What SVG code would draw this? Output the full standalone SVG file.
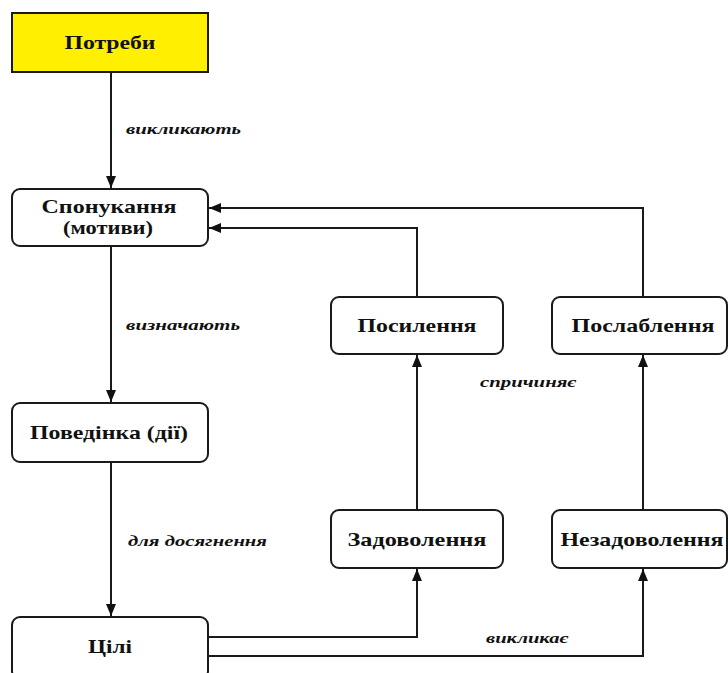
<svg xmlns="http://www.w3.org/2000/svg" width="728" height="673" viewBox="0 0 728 673">
<style>
.box{fill:#fff;stroke:#1a1a1a;stroke-width:2}
.yel{fill:#ffef00;stroke:#1a1a1a;stroke-width:2}
.t{font-family:"Liberation Serif","Times New Roman",Times,serif;font-weight:700;font-size:19px;fill:#111;text-anchor:middle}
.l{font-family:"Liberation Serif","Times New Roman",Times,serif;font-weight:700;font-style:italic;font-size:15px;fill:#111}
.c{fill:none;stroke:#1a1a1a;stroke-width:2}
</style>
<defs>
<marker id="ah" markerWidth="12" markerHeight="10" refX="12" refY="5" orient="auto" markerUnits="userSpaceOnUse">
<path d="M0,0 L12,5 L0,10 Z" fill="#111"/>
</marker>
</defs>
<rect width="728" height="673" fill="#fff"/>
<g id="connectors">
<path class="c" d="M111,72 V188" marker-end="url(#ah)"/>
<path class="c" d="M111,246 V402" marker-end="url(#ah)"/>
<path class="c" d="M111,462 V616" marker-end="url(#ah)"/>
<path class="c" d="M208,637 H417 V569" marker-end="url(#ah)"/>
<path class="c" d="M208,656 H643 V569" marker-end="url(#ah)"/>
<path class="c" d="M417,510 V355" marker-end="url(#ah)"/>
<path class="c" d="M643,510 V355" marker-end="url(#ah)"/>
<path class="c" d="M417,297 V228 H209" marker-end="url(#ah)"/>
<path class="c" d="M643,297 V208 H209" marker-end="url(#ah)"/>
<text class="l" x="126" y="134" textLength="115" lengthAdjust="spacingAndGlyphs">викликають</text>
<text class="l" x="126" y="330" textLength="114" lengthAdjust="spacingAndGlyphs">визначають</text>
<text class="l" x="128" y="546" textLength="139" lengthAdjust="spacingAndGlyphs">для досягнення</text>
<text class="l" x="480" y="387" textLength="96" lengthAdjust="spacingAndGlyphs">спричиняє</text>
<text class="l" x="486" y="643" textLength="82" lengthAdjust="spacingAndGlyphs">викликає</text>
</g>
<g id="potreby">
<rect class="yel" x="12" y="13" width="196" height="59"/>
<text class="t" x="110" y="49" textLength="91" lengthAdjust="spacingAndGlyphs">Потреби</text>
</g>
<g id="sponukannia">
<rect class="box" x="12" y="189" width="196" height="57" rx="8"/>
<text class="t" x="109" y="213" textLength="135" lengthAdjust="spacingAndGlyphs">Спонукання</text>
<text class="t" x="108" y="234" textLength="90" lengthAdjust="spacingAndGlyphs">(мотиви)</text>
</g>
<g id="povedinka">
<rect class="box" x="12" y="403" width="196" height="59" rx="8"/>
<text class="t" x="109" y="439" textLength="158" lengthAdjust="spacingAndGlyphs">Поведінка (дії)</text>
</g>
<g id="tsili">
<rect class="box" x="12" y="617" width="196" height="62" rx="8"/>
<text class="t" x="110" y="653" textLength="44" lengthAdjust="spacingAndGlyphs">Цілі</text>
</g>
<g id="posylennia">
<rect class="box" x="331" y="297" width="172" height="57" rx="8"/>
<text class="t" x="417" y="332" textLength="119" lengthAdjust="spacingAndGlyphs">Посилення</text>
</g>
<g id="poslablennia">
<rect class="box" x="552" y="297" width="175" height="57" rx="8"/>
<text class="t" x="643" y="332" textLength="143" lengthAdjust="spacingAndGlyphs">Послаблення</text>
</g>
<g id="zadovolennia">
<rect class="box" x="331" y="510" width="172" height="58" rx="8"/>
<text class="t" x="417" y="546" textLength="139" lengthAdjust="spacingAndGlyphs">Задоволення</text>
</g>
<g id="nezadovolennia">
<rect class="box" x="552" y="510" width="175" height="58" rx="8"/>
<text class="t" x="642" y="546" textLength="163" lengthAdjust="spacingAndGlyphs">Незадоволення</text>
</g>
</svg>
